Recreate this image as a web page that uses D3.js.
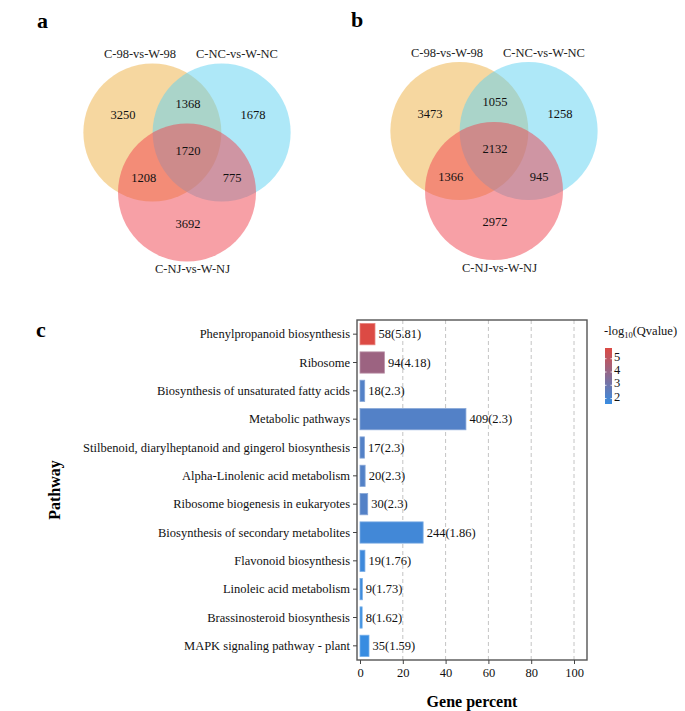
<!DOCTYPE html>
<html>
<head>
<meta charset="utf-8">
<script src="https://cdn.jsdelivr.net/npm/d3@7"></script>
<style>
  html, body { margin: 0; padding: 0; background: #fff; }
  svg { display: block; font-family: "Liberation Serif", "Times New Roman", serif; }
</style>
</head>
<body>
<svg id="chart" width="685" height="711"></svg>
<script>
// ---------------- DATA ----------------
const vennSets = ["C-98-vs-W-98", "C-NC-vs-W-NC", "C-NJ-vs-W-NJ"];
// region order: A only, A∩B, B only, A∩B∩C, A∩C, B∩C, C only
const vennRegions = ["A", "AB", "B", "ABC", "AC", "BC", "C"];
const vennCountsA = [3250, 1368, 1678, 1720, 1208, 775, 3692];
const vennCountsB = [3473, 1055, 1258, 2132, 1366, 945, 2972];

const pathways = [
  "Phenylpropanoid biosynthesis",
  "Ribosome",
  "Biosynthesis of unsaturated fatty acids",
  "Metabolic pathways",
  "Stilbenoid, diarylheptanoid and gingerol biosynthesis",
  "Alpha-Linolenic acid metabolism",
  "Ribosome biogenesis in eukaryotes",
  "Biosynthesis of secondary metabolites",
  "Flavonoid biosynthesis",
  "Linoleic acid metabolism",
  "Brassinosteroid biosynthesis",
  "MAPK signaling pathway - plant"
];
const genePercent = [7.0, 11.4, 2.2, 49.5, 2.1, 2.4, 3.6, 29.5, 2.3, 1.1, 1.0, 4.2];
const geneCount = [58, 94, 18, 409, 17, 20, 30, 244, 19, 9, 8, 35];
const qLabel = ["5.81", "4.18", "2.3", "2.3", "2.3", "2.3", "2.3", "1.86", "1.76", "1.73", "1.62", "1.59"];
const negLogQ = [5.81, 4.18, 2.3, 2.3, 2.3, 2.3, 2.3, 1.86, 1.76, 1.73, 1.62, 1.59];
const xTicks = [0, 20, 40, 60, 80, 100];
const legendTicks = [2, 3, 4, 5];

// ---------------- LAYOUT ----------------
const svg = d3.select("#chart");
const FONT = "Liberation Serif, Times New Roman, serif";

const circleColors = ["#EDAF41", "#5DD1F1", "#EF414D"];
const vennR = 69, vennD = 40;
const circleAngles = [-150, -30, 90];
// label placement (direction angle deg, distance) per region
const regionPlace = {
  A: [-150, 75], AB: [-90, 49], B: [-30, 75], ABC: [-90, 2],
  AC: [150, 51], BC: [30, 51], C: [90, 71]
};
const setLabelOffsets = [[-47, -98.5], [50, -98.5], [5.5, 116.5]];

function drawVenn(g, cx, cy, counts) {
  const rad = a => a * Math.PI / 180;
  circleAngles.forEach((a, i) => {
    g.append("circle")
      .attr("cx", cx + vennD * Math.cos(rad(a)))
      .attr("cy", cy + vennD * Math.sin(rad(a)))
      .attr("r", vennR)
      .attr("fill", circleColors[i])
      .attr("fill-opacity", 0.5);
  });
  vennRegions.forEach((key, i) => {
    const [a, d] = regionPlace[key];
    g.append("text")
      .attr("x", cx + 1 + d * Math.cos(rad(a)))
      .attr("y", cy + d * Math.sin(rad(a)))
      .attr("text-anchor", "middle")
      .attr("dominant-baseline", "central")
      .attr("font-size", 12.5)
      .attr("fill", "#111")
      .text(counts[i]);
  });
  vennSets.forEach((s, i) => {
    g.append("text")
      .attr("x", cx + setLabelOffsets[i][0])
      .attr("y", cy + setLabelOffsets[i][1])
      .attr("text-anchor", "middle")
      .attr("dominant-baseline", "central")
      .attr("font-size", 12.5)
      .attr("fill", "#222")
      .text(s);
  });
}

drawVenn(svg.append("g"), 187, 152.5, vennCountsA);
drawVenn(svg.append("g"), 494, 151, vennCountsB);

// panel letters
[["a", 37, 28], ["b", 351, 27], ["c", 36, 337]].forEach(([t, x, y]) => {
  svg.append("text").attr("x", x).attr("y", y)
    .attr("font-size", 22).attr("font-weight", "bold").attr("fill", "#000").text(t);
});

// ---------------- BAR CHART ----------------
const plot = { left: 357, right: 587, top: 320, bottom: 660 };
const x = d3.scaleLinear().domain([0, 100]).range([360, 574]);
const y = d3.scaleBand().domain(pathways).range([plot.top, plot.bottom])
  .paddingInner(0.25).paddingOuter(0.125);
const cExtent = d3.extent(negLogQ);
const color = d3.scaleLinear().domain(cExtent).range(["#378CE1", "#DC4A44"]).interpolate(d3.interpolateRgb);

const gc = svg.append("g");

// grid
gc.selectAll("line.grid").data(xTicks.filter(d => d > 0)).enter().append("line")
  .attr("x1", d => x(d)).attr("x2", d => x(d))
  .attr("y1", plot.top).attr("y2", plot.bottom)
  .attr("stroke", "#c4c4c4").attr("stroke-width", 1).attr("stroke-dasharray", "4,3");

// bars
gc.selectAll("rect.bar").data(pathways).enter().append("rect")
  .attr("x", x(0))
  .attr("y", d => y(d))
  .attr("width", (d, i) => x(genePercent[i]) - x(0))
  .attr("height", y.bandwidth())
  .attr("fill", (d, i) => color(negLogQ[i]))
  .attr("stroke", (d, i) => d3.interpolateRgb(color(negLogQ[i]), "#fff")(0.3))
  .attr("stroke-width", 0.8);

// bar labels
gc.selectAll("text.blab").data(pathways).enter().append("text")
  .attr("x", (d, i) => x(genePercent[i]) + 3.5)
  .attr("y", d => y(d) + y.bandwidth() / 2)
  .attr("dominant-baseline", "central")
  .attr("font-size", 12.5)
  .attr("fill", "#111")
  .text((d, i) => `${geneCount[i]}(${qLabel[i]})`);

// frame
gc.append("rect")
  .attr("x", plot.left).attr("y", plot.top)
  .attr("width", plot.right - plot.left).attr("height", plot.bottom - plot.top)
  .attr("fill", "none").attr("stroke", "#555").attr("stroke-width", 1.4);

// axes
const yAxis = gc.append("g").attr("transform", `translate(${plot.left},0)`)
  .call(d3.axisLeft(y).tickSize(4).tickPadding(3));
yAxis.select(".domain").remove();
yAxis.selectAll("line").attr("stroke", "#444");
yAxis.selectAll("text").attr("font-family", FONT).attr("font-size", 12.5).attr("fill", "#111");

const xAxis = gc.append("g").attr("transform", `translate(0,${plot.bottom})`)
  .call(d3.axisBottom(x).tickValues(xTicks).tickSize(4).tickPadding(4));
xAxis.select(".domain").remove();
xAxis.selectAll("line").attr("stroke", "#444");
xAxis.selectAll("text").attr("font-family", FONT).attr("font-size", 12.5).attr("fill", "#111");

// axis titles
svg.append("text").attr("x", (plot.left + plot.right) / 2).attr("y", 707)
  .attr("text-anchor", "middle").attr("font-size", 16).attr("font-weight", "bold").text("Gene percent");
svg.append("text").attr("transform", `translate(60,${(plot.top + plot.bottom) / 2}) rotate(-90)`)
  .attr("text-anchor", "middle").attr("font-size", 16).attr("font-weight", "bold").text("Pathway");

// legend
const lg = svg.append("g");
const lt = lg.append("text").attr("x", 604).attr("y", 335).attr("font-size", 12.5).attr("fill", "#111");
lt.append("tspan").text("-log");
lt.append("tspan").attr("font-size", 8.5).attr("dy", 3).text("10");
lt.append("tspan").attr("dy", -3).text("(Qvalue)");

const ly = d3.scaleLinear().domain(cExtent).range([404, 348]);
const defs = svg.append("defs");
const grad = defs.append("linearGradient").attr("id", "cbar")
  .attr("x1", 0).attr("y1", 1).attr("x2", 0).attr("y2", 0);
grad.append("stop").attr("offset", 0).attr("stop-color", color(cExtent[0]));
grad.append("stop").attr("offset", 1).attr("stop-color", color(cExtent[1]));
const cbx = 605, cbw = 7;
lg.append("rect").attr("x", cbx).attr("y", ly(cExtent[1])).attr("width", cbw)
  .attr("height", ly(cExtent[0]) - ly(cExtent[1])).attr("fill", "url(#cbar)");
legendTicks.forEach(t => {
  lg.append("line").attr("x1", cbx).attr("x2", cbx + 1.5).attr("y1", ly(t)).attr("y2", ly(t))
    .attr("stroke", "#fff").attr("stroke-width", 0.8);
  lg.append("line").attr("x1", cbx + cbw - 1.5).attr("x2", cbx + cbw).attr("y1", ly(t)).attr("y2", ly(t))
    .attr("stroke", "#fff").attr("stroke-width", 0.8);
  lg.append("text").attr("x", cbx + cbw + 2).attr("y", ly(t) - 2)
    .attr("dominant-baseline", "central").attr("font-size", 12.5).attr("fill", "#111").text(t);
});
</script>
</body>
</html>
